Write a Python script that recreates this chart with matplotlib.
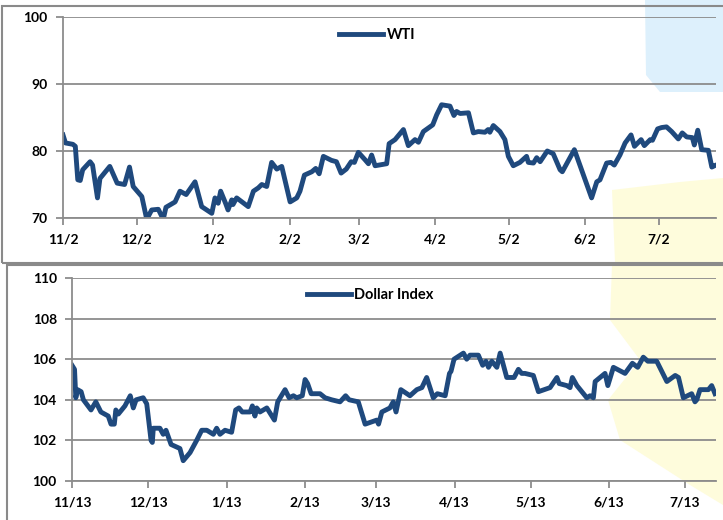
import numpy as np
import pandas as pd
import matplotlib
matplotlib.use("Agg")
import matplotlib.pyplot as plt
from matplotlib.patches import Rectangle, Polygon

plt.rcParams['font.family'] = ['Lato', 'DejaVu Sans']

# WTI, days counted from 11/2
wti_day = [0, 1, 4, 5, 6, 7, 8, 11, 12, 14, 15, 19, 22, 25, 27, 28.5, 32, 34, 36, 38.7,
           40.7, 41.8, 45.5, 47.5, 50, 53.6, 56.3, 60.4, 61.7, 63, 64, 66, 67, 68.5, 69,
           70.5, 75.2, 77.3, 79.3, 80.7, 82.7, 84.7, 86.8, 88.8, 92.2, 94.9, 96.2, 98,
           101, 102.6, 104, 105.7, 109, 111, 112.9, 115, 117, 118.3, 119.9, 122.6, 124,
           125.3, 126.7, 131.4, 132.4, 134.8, 138.2, 140.2, 142.9, 144.3, 146.3, 150.1,
           151.7, 153.7, 157.1, 158.7, 159.8, 161.2, 164.6, 166.6, 168.6, 171.3, 172.6,
           173.3, 174.7, 177.4, 179.4, 180.8, 182.8, 185.5, 188.2, 188.9, 191, 192.3,
           193.7, 196.6, 199, 201.8, 202.7, 207.6, 214.6, 216.7, 218, 220.7, 222.4,
           223.8, 226.1, 228.2, 230.6, 232, 234.7, 236, 238.4, 239.3, 241.4, 243, 245,
           247.1, 249.8, 251.4, 253.2, 255.5, 256.3, 257.7, 259.3, 262, 263.4, 264.5]
wti_val = [82.4, 81.2, 81.0, 80.7, 75.7, 75.6, 77.2, 78.4, 77.9, 73.0, 75.9, 77.7, 75.2,
           75.0, 77.6, 74.7, 73.2, 69.8, 71.2, 71.3, 69.8, 71.6, 72.4, 74.0, 73.5, 75.4,
           71.7, 70.7, 73.0, 72.2, 74.0, 72.2, 71.2, 72.7, 72.0, 73.0, 71.7, 74.0, 74.5,
           75.0, 74.7, 78.3, 77.3, 77.7, 72.4, 73.0, 74.0, 76.4, 76.9, 77.4, 76.6, 79.2,
           78.6, 78.4, 76.7, 77.3, 78.4, 78.3, 79.8, 78.7, 78.1, 79.4, 77.8, 78.1, 81.1,
           81.7, 83.2, 80.8, 81.7, 81.3, 82.9, 83.9, 85.4, 86.9, 86.7, 85.3, 85.9, 85.6,
           85.7, 82.7, 82.9, 82.8, 83.2, 82.8, 83.8, 82.9, 81.7, 79.2, 77.8, 78.3, 79.2,
           78.3, 78.2, 79.0, 78.4, 80.0, 79.6, 77.2, 76.9, 80.2, 73.0, 75.4, 75.7, 78.2,
           78.3, 77.9, 79.4, 81.2, 82.4, 80.7, 81.7, 80.8, 81.7, 81.6, 83.3, 83.5, 83.6,
           82.9, 81.8, 82.7, 82.1, 82.0, 80.9, 83.1, 80.2, 80.1, 77.6, 77.8]

# Dollar Index, days counted from 11/13
dxy_day = [0, 1, 1.5, 2.2, 3.6, 4.5, 7.5, 9.4, 11.4, 14.3, 15.4, 16.7, 17.3, 18.3, 20.9,
           23, 24.2, 25.3, 28.1, 29.5, 31.2, 31.7, 32.1, 34.7, 36, 37.1, 39.1, 42.6, 43.9,
           46.6, 49.2, 51.2, 53.2, 55.8, 57.1, 58.4, 60.4, 63, 64.6, 65.9, 67.2, 70.3,
           71.2, 72.2, 72.9, 74.2, 76.9, 79.9, 81.2, 84.1, 85.7, 87.4, 88.7, 90.9, 92, 93,
           94.4, 97.9, 99.9, 102.5, 105.8, 108, 109.4, 113, 115.7, 120.3, 121, 122.3,
           125.5, 126.8, 127.9, 129.8, 133.4, 136.1, 138.1, 140, 142.6, 144.2, 147.3, 149,
           149.6, 150.8, 154.5, 155.8, 157.1, 160.4, 162.1, 163.4, 164.4, 165.7, 167.7,
           169, 171.6, 174.5, 176.2, 177.5, 178.8, 182.1, 184.1, 188.7, 191.4, 192.3,
           195.3, 196.6, 197.5, 199.3, 203.2, 204.5, 205.8, 206.5, 210.4, 211.5, 213.7,
           218.3, 221.2, 223.3, 225.5, 227.3, 230.8, 234.8, 238.1, 239.4, 241.3, 244.6,
           245.9, 246.6, 247.9, 251.2, 252.5, 253.8]
dxy_val = [105.7, 105.5, 104.1, 104.5, 104.4, 104.0, 103.5, 103.9, 103.4, 103.2, 102.8,
           102.8, 103.5, 103.3, 103.7, 104.2, 103.6, 104.0, 104.1, 103.8, 102.0, 101.9,
           102.6, 102.6, 102.3, 102.5, 101.8, 101.6, 101.0, 101.4, 102.0, 102.5, 102.5,
           102.3, 102.6, 102.3, 102.5, 102.4, 103.5, 103.6, 103.4, 103.4, 103.7, 103.2,
           103.6, 103.4, 103.6, 103.0, 103.9, 104.5, 104.1, 104.2, 104.1, 104.2, 105.0,
           104.8, 104.3, 104.3, 104.1, 104.0, 103.9, 104.2, 104.0, 103.9, 102.8, 103.0,
           102.8, 103.4, 103.6, 103.9, 103.4, 104.5, 104.2, 104.5, 104.6, 105.1, 104.1,
           104.3, 104.2, 105.3, 105.4, 106.0, 106.3, 106.0, 106.2, 106.2, 105.7, 105.9,
           105.6, 105.9, 105.6, 106.3, 105.1, 105.1, 105.5, 105.3, 105.3, 105.2, 104.4,
           104.6, 105.1, 104.8, 104.7, 104.6, 105.1, 104.7, 104.1, 104.2, 104.1, 104.9,
           105.3, 104.7, 105.6, 105.3, 105.8, 105.6, 106.1, 105.9, 105.9, 104.9, 105.2,
           105.1, 104.1, 104.3, 103.9, 104.0, 104.5, 104.5, 104.7, 104.3]

wti_start = pd.Timestamp("2009-11-02")
dxy_start = pd.Timestamp("2009-11-13")
line_color = "#1F497D"
grid_color = "#8C8C8C"

W, H = 723, 520
fig = plt.figure(figsize=(W / 100, H / 100), dpi=100)


def px_rect(x0, y0, x1, y1):
    # pixel box (top-left origin) -> figure fraction [left, bottom, width, height]
    return [x0 / W, 1 - y1 / H, (x1 - x0) / W, (y1 - y0) / H]


# faint watermark behind the charts
blue = [(645, 0), (723, 0), (723, 92), (660, 92), (646, 75)]
yellow_top = [(612, 190), (680, 182), (723, 178), (723, 262), (615, 262)]
yellow_bot = [(612, 265), (723, 265), (723, 505), (690, 485), (620, 440), (608, 400),
              (640, 360), (610, 320)]
for pts, col in [(blue, "#DDF0FC"), (yellow_top, "#FEFCDC"), (yellow_bot, "#FEFCDC")]:
    fig.add_artist(Polygon([(x / W, 1 - y / H) for x, y in pts], closed=True,
                           facecolor=col, edgecolor="none", transform=fig.transFigure,
                           zorder=0))

# chart frames
for x0, y0, x1, y1 in [(2, 6, 730, 263), (7, 265, 730, 530)]:
    l, b, w, h = px_rect(x0, y0, x1, y1)
    fig.add_artist(Rectangle((l, b), w, h, transform=fig.transFigure, fill=False,
                             edgecolor="#8A8A8A", linewidth=1.5, zorder=1))


def style_axis(ax, ticks, labels, ymin, ymax, ystep):
    ax.set_facecolor("none")
    ax.set_ylim(ymin, ymax)
    ax.set_yticks(np.arange(ymin, ymax + 0.01, ystep))
    ax.set_xticks(ticks)
    ax.set_xticklabels(labels)
    ax.grid(axis="y", color=grid_color, linewidth=1.3)
    ax.set_axisbelow(True)
    for s in ["top", "right"]:
        ax.spines[s].set_visible(False)
    for s in ["left", "bottom"]:
        ax.spines[s].set_color(grid_color)
        ax.spines[s].set_linewidth(1.3)
    ax.tick_params(axis="both", direction="out", length=5, width=1.3, color=grid_color,
                   labelsize=10, pad=6)
    for lab in ax.get_xticklabels() + ax.get_yticklabels():
        lab.set_fontweight("bold")


# WTI panel
ax1 = fig.add_axes(px_rect(63, 17, 716, 218))
wti_x = wti_start + pd.to_timedelta(wti_day, unit="D")
ax1.plot(wti_x, wti_val, color=line_color, linewidth=3.5, label="WTI")
wti_ticks = pd.date_range(wti_start, periods=9, freq=pd.DateOffset(months=1))
style_axis(ax1, wti_ticks, [f"{d.month}/{d.day}" for d in wti_ticks], 70, 100, 10)
ax1.set_xlim(wti_start, wti_start + pd.Timedelta(days=265.1))
ax1.legend(loc="center left", bbox_to_anchor=(0.423, 0.91), frameon=False,
           borderpad=0, borderaxespad=0, handlelength=3.0, handletextpad=0.25,
           prop={"weight": "bold", "size": 10.5})

# Dollar Index panel
ax2 = fig.add_axes(px_rect(72, 278, 716, 481))
dxy_x = dxy_start + pd.to_timedelta(dxy_day, unit="D")
ax2.plot(dxy_x, dxy_val, color=line_color, linewidth=3.5, label="Dollar Index")
dxy_ticks = pd.date_range(dxy_start, periods=9, freq=pd.DateOffset(months=1))
style_axis(ax2, dxy_ticks, [f"{d.month}/{d.day}" for d in dxy_ticks], 100, 110, 2)
ax2.set_xlim(dxy_start, dxy_start + pd.Timedelta(days=254.2))
ax2.legend(loc="center left", bbox_to_anchor=(0.365, 0.916), frameon=False,
           borderpad=0, borderaxespad=0, handlelength=3.0, handletextpad=0.25,
           prop={"weight": "bold", "size": 10.5})

fig.savefig("out.png", dpi=100)
